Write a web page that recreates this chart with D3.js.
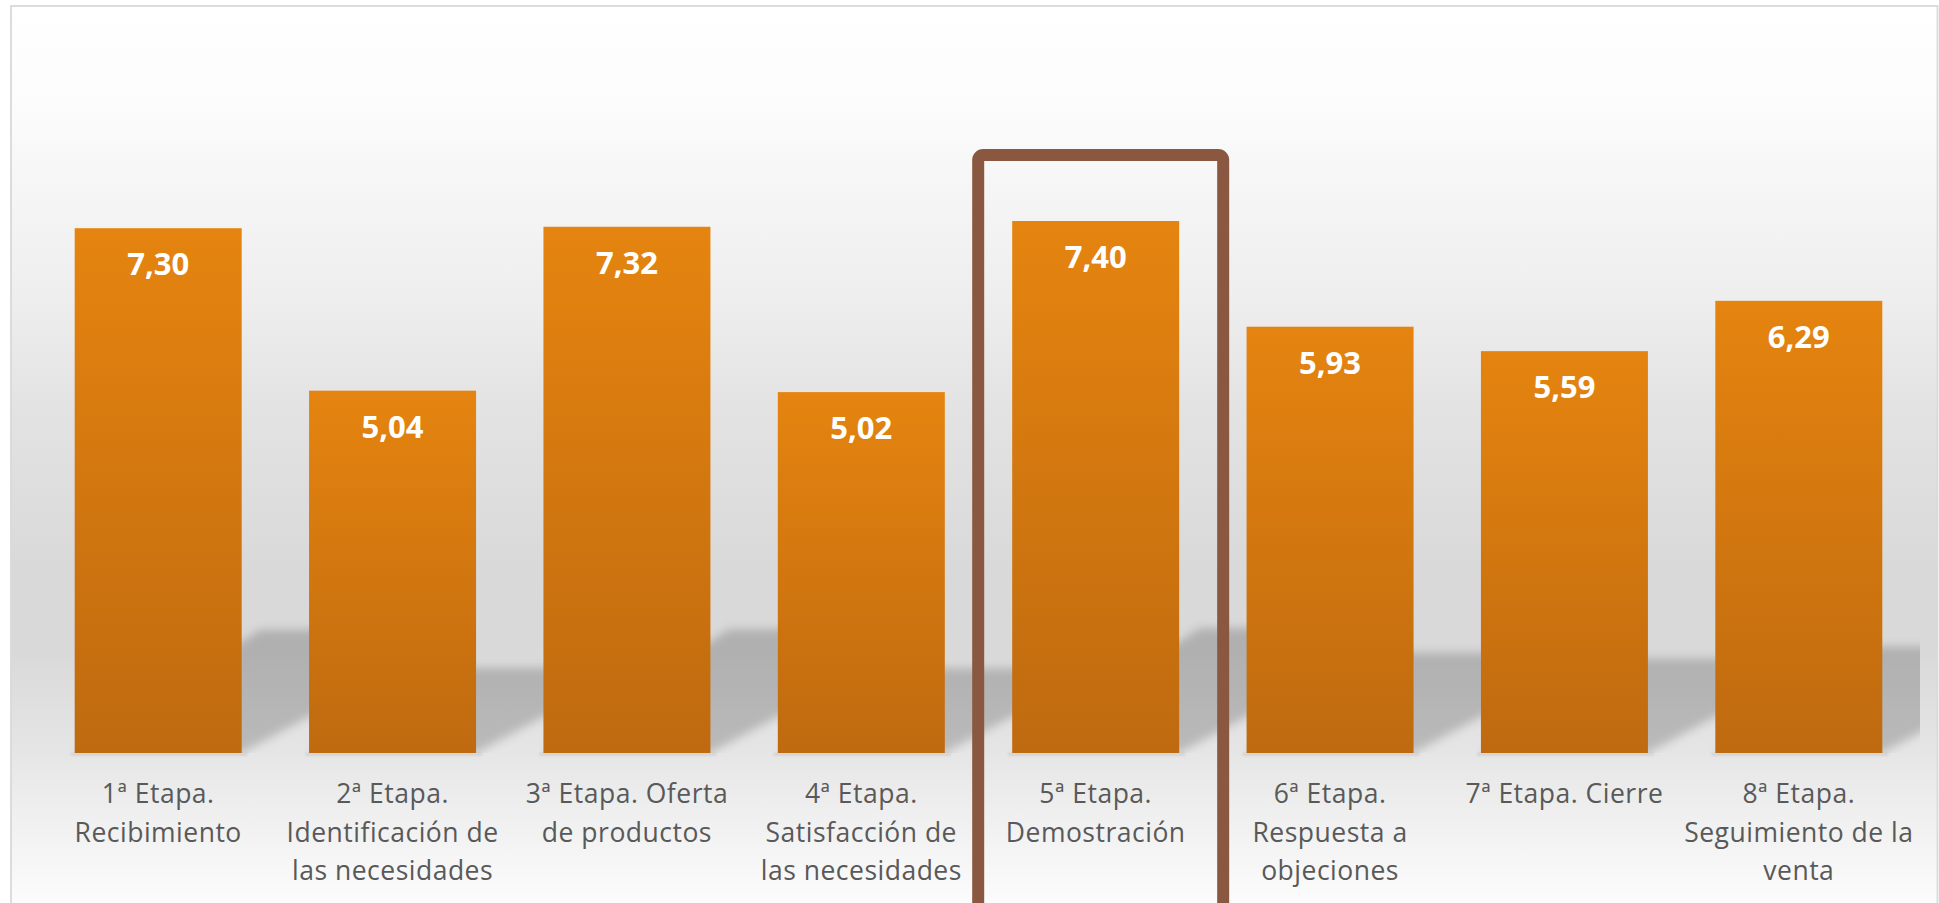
<!DOCTYPE html>
<html>
<head>
<meta charset="utf-8">
<script src="https://cdn.jsdelivr.net/npm/d3@7"></script>
<style>
  html, body { margin: 0; padding: 0; background: #ffffff; overflow: hidden; }
  svg { display: block; }
</style>
</head>
<body>
<svg id="chart" width="1939" height="903"></svg>
<script>
// Stages of the sales process (line breaks mark where each label wraps)
const categories = [
  "1ª Etapa.\nRecibimiento",
  "2ª Etapa.\nIdentificación de\nlas necesidades",
  "3ª Etapa. Oferta\nde productos",
  "4ª Etapa.\nSatisfacción de\nlas necesidades",
  "5ª Etapa.\nDemostración",
  "6ª Etapa.\nRespuesta a\nobjeciones",
  "7ª Etapa. Cierre",
  "8ª Etapa.\nSeguimiento de la\nventa"
];
const values = [7.30, 5.04, 7.32, 5.02, 7.40, 5.93, 5.59, 6.29];
const valueLabels = ["7,30", "5,04", "7,32", "5,02", "7,40", "5,93", "5,59", "6,29"];
const highlightIndex = 4;

const W = 1939, H = 903;
const plot = { left: 41, right: 1916, top: 106, bottom: 753 };

const svg = d3.select("#chart");
const defs = svg.append("defs");

// Chart-area background: soft vertical grey wash
const bg = defs.append("linearGradient")
  .attr("id", "bgGrad").attr("gradientUnits", "userSpaceOnUse")
  .attr("x1", 0).attr("y1", 0).attr("x2", 0).attr("y2", H);
[[0, "#ffffff"], [0.11, "#fcfcfc"], [0.25, "#f3f3f3"], [0.33, "#eeeeee"],
 [0.45, "#e3e3e3"], [0.63, "#d9d9d9"], [0.72, "#d9d9d9"], [0.83, "#e5e5e5"],
 [0.87, "#ebebeb"], [1, "#fcfcfc"]]
  .forEach(([o, c]) => bg.append("stop").attr("offset", o).attr("stop-color", c));

// Orange bar fill, bright at the top and darker at the base
const barGrad = defs.append("linearGradient")
  .attr("id", "barGrad").attr("x1", 0).attr("y1", 0).attr("x2", 0).attr("y2", 1);
barGrad.append("stop").attr("offset", 0).attr("stop-color", "#e5840f");
barGrad.append("stop").attr("offset", 1).attr("stop-color", "#bf6a10");

const blur = defs.append("filter").attr("id", "shadowBlur")
  .attr("x", "-20%").attr("y", "-20%").attr("width", "140%").attr("height", "140%");
blur.append("feGaussianBlur").attr("stdDeviation", 5);

const blurSmall = defs.append("filter").attr("id", "baseBlur")
  .attr("x", "-10%").attr("y", "-200%").attr("width", "120%").attr("height", "500%");
blurSmall.append("feGaussianBlur").attr("stdDeviation", 1.2);

defs.append("clipPath").attr("id", "plotClip")
  .append("rect").attr("x", 12).attr("y", 0).attr("width", 1920 - 12).attr("height", plot.bottom);

// Chart area with border
svg.append("rect")
  .attr("x", 11).attr("y", 6).attr("width", W - 12.5).attr("height", H + 20)
  .attr("fill", "url(#bgGrad)")
  .attr("stroke", "#d9d9d9").attr("stroke-width", 1.8);

const x = d3.scaleBand()
  .domain(categories)
  .range([plot.left, plot.right])
  .paddingInner(0.2875)
  .paddingOuter(0.14375);

const y = d3.scaleLinear().domain([0, 9]).range([plot.bottom, plot.top]);

const data = categories.map((c, i) => ({ cat: c, value: values[i], label: valueLabels[i], i }));
const bw = x.bandwidth();

// Perspective shadows cast up and to the right of each bar
svg.append("g").attr("clip-path", "url(#plotClip)")
  .selectAll("path").data(data).join("path")
  .attr("d", d => {
    const x0 = x(d.cat), x1 = x0 + bw, b = y(0);
    const sh = 0.235 * (y(0) - y(d.value));
    return `M${x0},${b} L${x1},${b} L${x1 + 1.85 * sh},${b - sh} L${x0 + 1.5 * sh},${b - sh} Z`;
  })
  .attr("fill", "#000").attr("fill-opacity", 0.19)
  .attr("filter", "url(#shadowBlur)");

// Thin contact shadow under each bar
svg.append("g").selectAll("rect").data(data).join("rect")
  .attr("x", d => x(d.cat) - 4).attr("y", y(0))
  .attr("width", bw + 10).attr("height", 2.5)
  .attr("fill", "#000").attr("fill-opacity", 0.1)
  .attr("filter", "url(#baseBlur)");

// Bars
svg.append("g").selectAll("rect").data(data).join("rect")
  .attr("x", d => x(d.cat)).attr("y", d => y(d.value))
  .attr("width", bw).attr("height", d => y(0) - y(d.value))
  .attr("fill", "url(#barGrad)");

// Value labels inside the top of each bar
svg.append("g").selectAll("text").data(data).join("text")
  .attr("x", d => x(d.cat) + bw / 2)
  .attr("y", d => y(d.value) + 47)
  .attr("text-anchor", "middle")
  .attr("font-family", "'Open Sans', sans-serif")
  .attr("font-weight", 700).attr("font-size", 31)
  .attr("fill", "#ffffff")
  .text(d => d.label);

// Category labels, wrapped onto several lines
const catG = svg.append("g");
data.forEach(d => {
  const t = catG.append("text")
    .attr("x", x(d.cat) + bw / 2)
    .attr("y", y(0) + 50)
    .attr("text-anchor", "middle")
    .attr("font-family", "'Open Sans', sans-serif")
    .attr("font-size", 26.5).attr("letter-spacing", 0.5)
    .attr("fill", "#595959");
  d.cat.split("\n").forEach((line, k) => {
    t.append("tspan")
      .attr("x", x(d.cat) + bw / 2)
      .attr("y", y(0) + 50 + k * 38.7)
      .text(line);
  });
});

// Box drawing attention to the highlighted stage
const hc = categories[highlightIndex];
svg.append("rect")
  .attr("x", x(hc) - 34).attr("y", y(values[highlightIndex]) - 66)
  .attr("width", bw + 78).attr("height", 760)
  .attr("rx", 5).attr("ry", 5)
  .attr("fill", "none")
  .attr("stroke", "#8a5740").attr("stroke-width", 12);
</script>
</body>
</html>
